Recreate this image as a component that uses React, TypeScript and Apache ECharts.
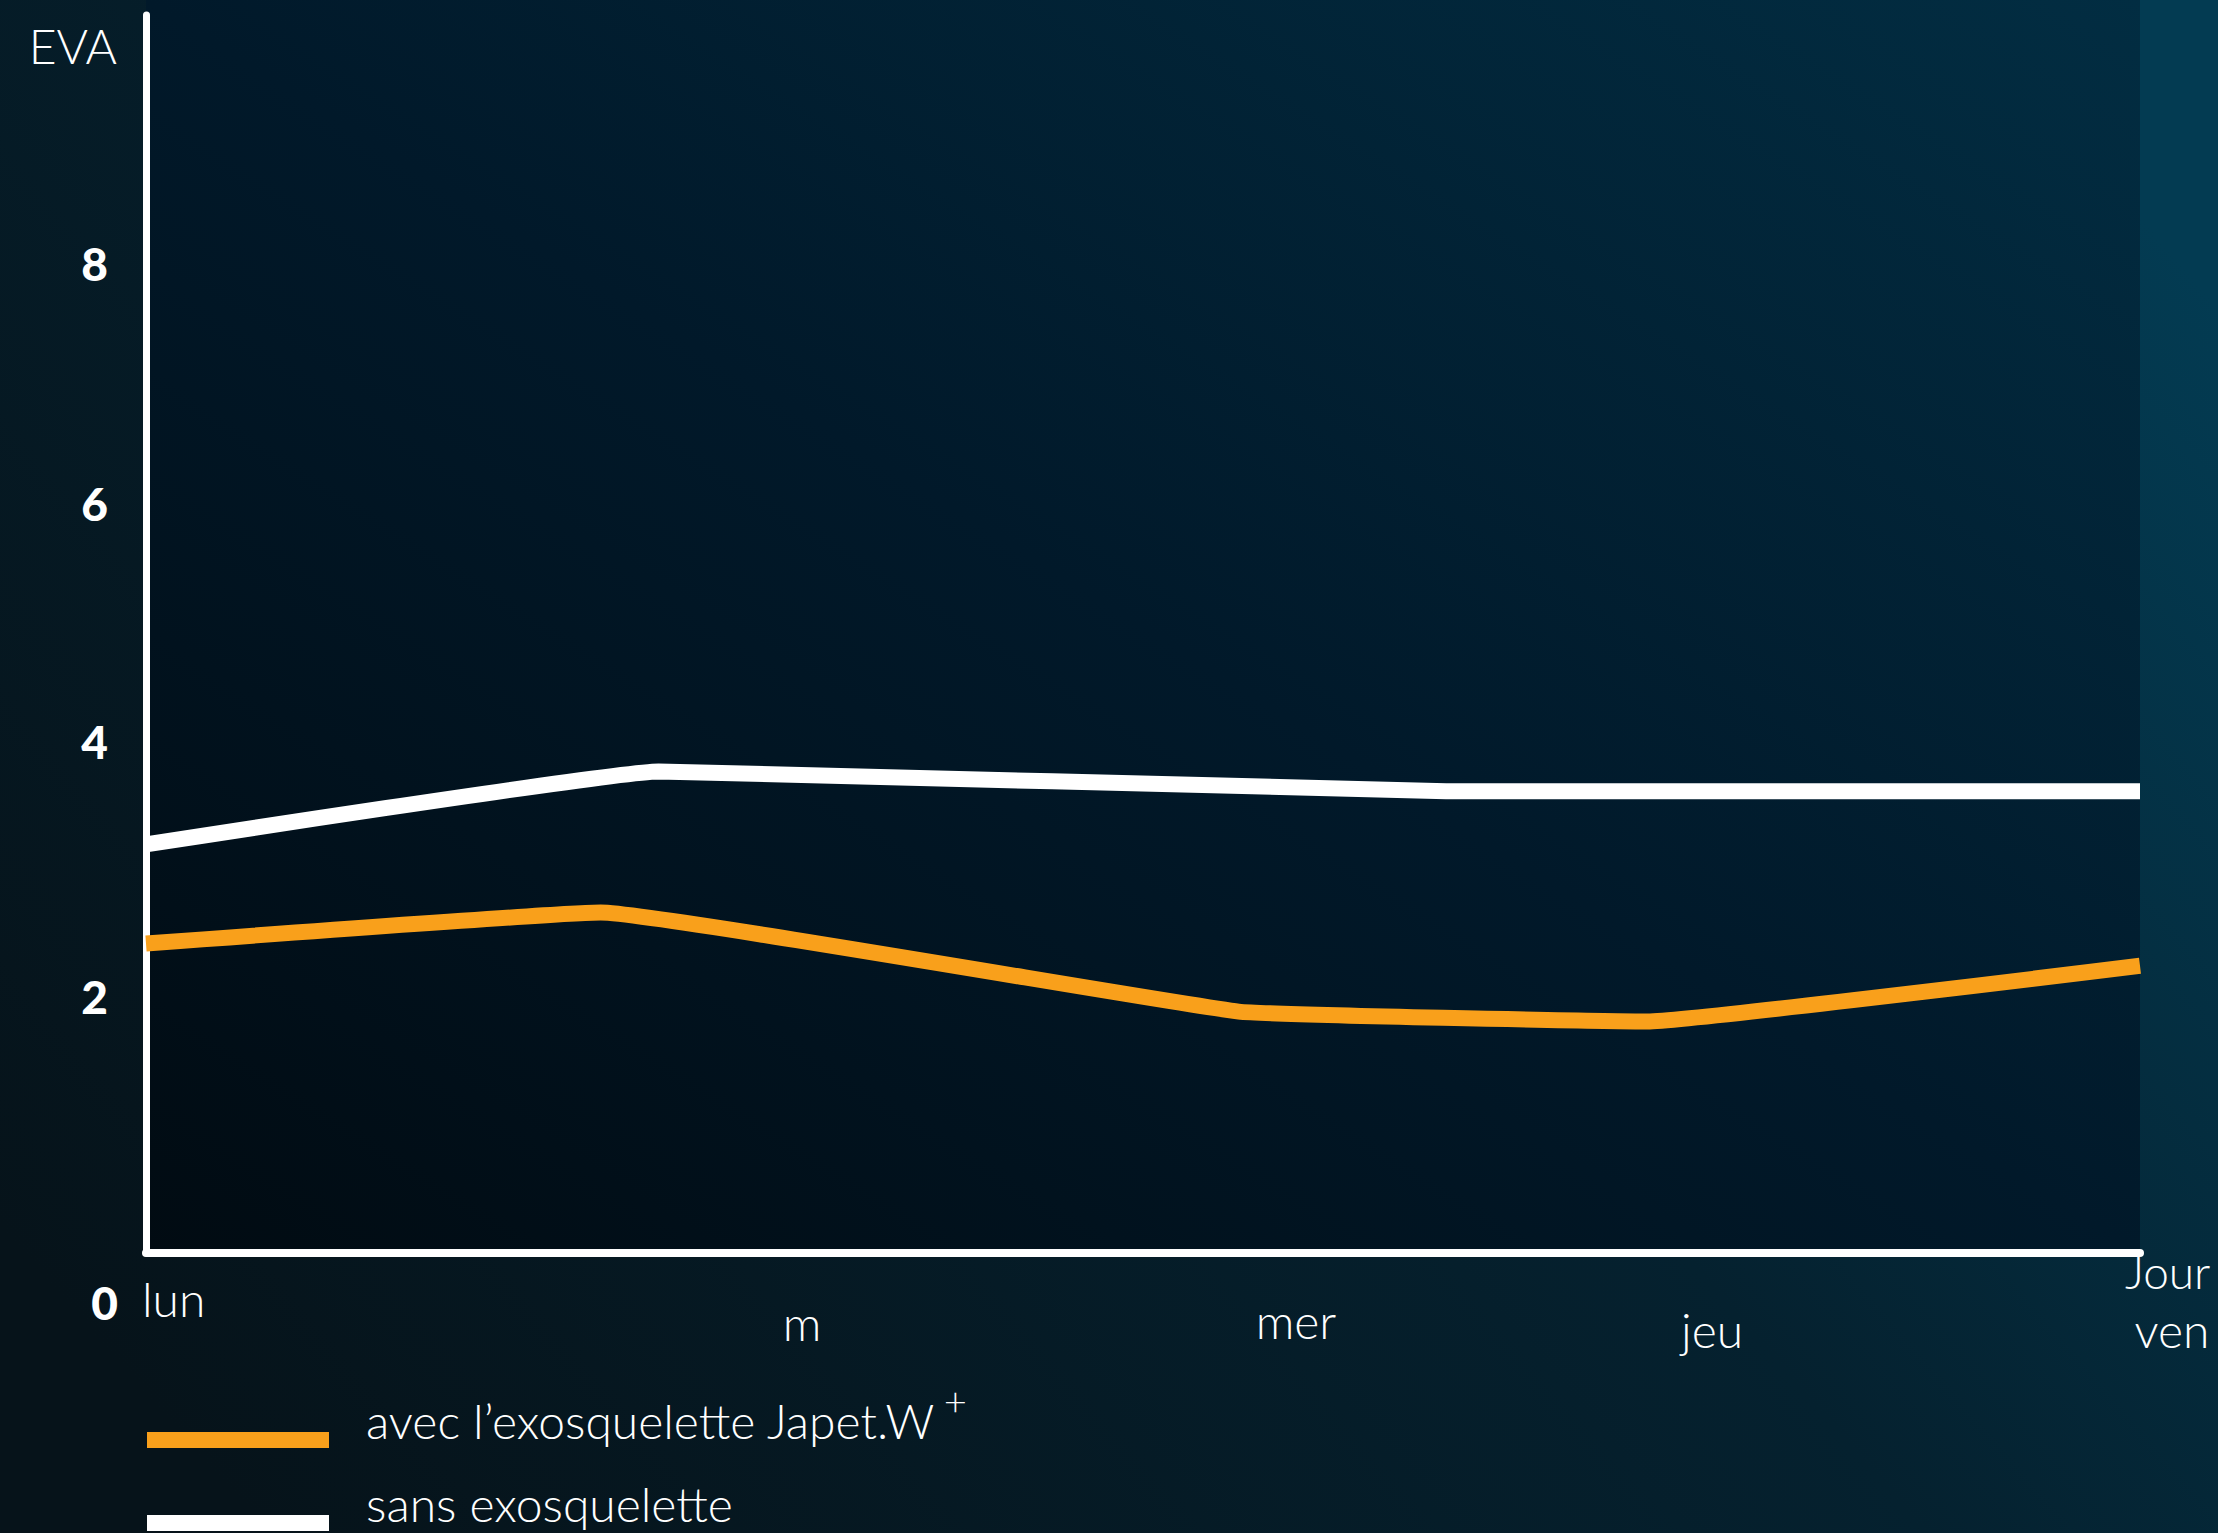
import React, { useEffect, useRef } from 'react';
import * as echarts from 'echarts';

// Weekday labels along the horizontal axis
const dayLabels = ['lun', 'm', 'mer', 'jeu', 'ven'];

// Series names
const avecName = 'avec l’exosquelette Japet.W';
const sansName = 'sans exosquelette';

// Position along the week (0 = start, 100 = end) and EVA score
const avecPos = [0, 22.8, 54.8, 75.3, 100];
const avecEva = [2.5, 2.75, 1.95, 1.87, 2.32];
const sansPos = [0, 25.7, 65.2, 100];
const sansEva = [3.3, 3.89, 3.73, 3.73];

// EVA axis range
const evaMin = 0;
const evaMax = 10;
const evaStep = 2;

// Layout of the weekday labels (pixel anchors)
const dayLabelLayout = [
  { x: 142, y: 1298, align: 'left' },
  { x: 802, y: 1322, align: 'center' },
  { x: 1296, y: 1320, align: 'center' },
  { x: 1712, y: 1329, align: 'center' },
  { x: 2172, y: 1329, align: 'center' },
];

// Nudges of the EVA tick labels (px): dy (+ = down), dx (+ = right)
const tickNudge: Record<number, { dy: number; dx: number }> = {
  0: { dy: 49, dx: 10 },
  2: { dy: -9, dx: 0 },
  4: { dy: -16, dx: 0 },
  6: { dy: -7, dx: 0 },
  8: { dy: 1, dx: 0 },
};
const tickShiftMax = 10;

const FONT = "Lato, 'Open Sans', 'DejaVu Sans', sans-serif";
const ORANGE = '#F9A01B';
const WHITE = '#FFFFFF';

export default function App() {
  const ref = useRef<HTMLDivElement>(null);

  useEffect(() => {
    if (!ref.current) return;
    const chart = echarts.init(ref.current, undefined, { renderer: 'svg' });

    const tickRich: Record<string, any> = {};
    Object.keys(tickNudge).forEach((k) => {
      const { dy, dx } = tickNudge[Number(k)];
      tickRich['t' + k] = {
        fontSize: 46,
        fontWeight: 900,
        fontFamily: FONT,
        color: WHITE,
        padding: [dy >= 0 ? 2 * dy : 0, tickShiftMax - dx, dy < 0 ? -2 * dy : 0, 0],
      };
    });

    const option: any = {
      animation: false,
      backgroundColor: {
        type: 'linear',
        x: 0,
        y: 0.8,
        x2: 1,
        y2: 0.2,
        colorStops: [
          { offset: 0, color: '#06131a' },
          { offset: 0.55, color: '#05212f' },
          { offset: 1, color: '#033b52' },
        ],
      },
      grid: { left: 146, right: 78, top: 15, bottom: 280, containLabel: false },
      xAxis: {
        type: 'value',
        min: 0,
        max: 100,
        name: 'Jour',
        nameLocation: 'end',
        nameGap: -15,
        nameTextStyle: {
          color: WHITE,
          fontSize: 46,
          fontWeight: 300,
          fontFamily: FONT,
          align: 'left',
          verticalAlign: 'top',
          lineHeight: 36,
        },
        axisLine: { show: true, lineStyle: { color: WHITE, width: 8 } },
        axisTick: { show: false },
        axisLabel: { show: false },
        splitLine: { show: false },
      },
      yAxis: {
        type: 'value',
        min: evaMin,
        max: evaMax,
        interval: evaStep,
        name: 'EVA',
        nameLocation: 'end',
        nameGap: -6,
        nameTextStyle: {
          color: WHITE,
          fontSize: 48,
          fontWeight: 300,
          fontFamily: FONT,
          align: 'right',
          verticalAlign: 'top',
          padding: [0, 29, 0, 0],
        },
        axisLine: { show: true, lineStyle: { color: WHITE, width: 7 } },
        axisTick: { show: false },
        splitLine: { show: false },
        axisLabel: {
          margin: 38 - tickShiftMax,
          color: WHITE,
          fontSize: 46,
          fontWeight: 900,
          fontFamily: FONT,
          formatter: (v: number) => (v >= evaMax ? '' : `{t${v}|${v}}`),
          rich: tickRich,
        },
      },
      legend: {
        orient: 'vertical',
        left: 142,
        top: 1376,
        height: 400,
        icon: 'rect',
        itemWidth: 182,
        itemHeight: 16,
        itemGap: 31,
        data: [avecName, sansName],
        formatter: (name: string) => (name === avecName ? `${name}{sup|+}` : name),
        textStyle: {
          color: WHITE,
          fontSize: 48,
          fontWeight: 300,
          fontFamily: FONT,
          padding: [0, 0, 40, 32],
          rich: {
            sup: {
              color: WHITE,
              fontSize: 40,
              fontWeight: 300,
              fontFamily: FONT,
              padding: [0, 0, 38, 8],
            },
          },
        },
      },
      graphic: [
        {
          type: 'rect',
          z: -10,
          silent: true,
          shape: { x: 146, y: 0, width: 1994, height: 1253 },
          style: {
            fill: new echarts.graphic.LinearGradient(0, 1, 1, 0, [
              { offset: 0, color: '#010b12' },
              { offset: 0.5, color: '#01192a' },
              { offset: 1, color: '#022d42' },
            ]),
          },
        },
        ...dayLabels.map((t, i) => ({
          type: 'text',
          x: dayLabelLayout[i].x,
          y: dayLabelLayout[i].y,
          silent: true,
          style: {
            text: t,
            fill: WHITE,
            fontSize: 48,
            fontWeight: 300,
            fontFamily: FONT,
            align: dayLabelLayout[i].align,
            verticalAlign: 'middle',
          },
        })),
      ],
      series: [
        {
          name: sansName,
          type: 'line',
          showSymbol: false,
          smooth: 0.08,
          z: 1,
          data: sansPos.map((x, i) => [x, sansEva[i]]),
          itemStyle: { color: WHITE },
          lineStyle: { color: WHITE, width: 16, join: 'round' },
        },
        {
          name: avecName,
          type: 'line',
          showSymbol: false,
          smooth: 0.08,
          z: 3,
          data: avecPos.map((x, i) => [x, avecEva[i]]),
          itemStyle: { color: ORANGE },
          lineStyle: { color: ORANGE, width: 16, join: 'round' },
        },
      ],
    };

    chart.setOption(option);
    return () => chart.dispose();
  }, []);

  return (
    <div
      ref={ref}
      style={{ position: 'fixed', left: 0, top: 0, width: 2218, height: 1533 }}
    />
  );
}
